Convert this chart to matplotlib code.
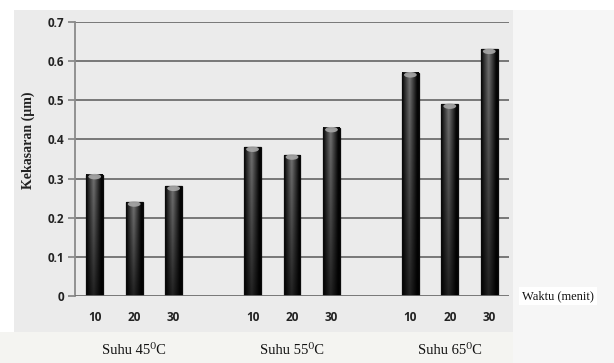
import numpy as np
import matplotlib
matplotlib.use("Agg")
import matplotlib.pyplot as plt
from matplotlib.patches import Rectangle, Ellipse

# ---- data ----
groups = ["Suhu 45⁰C", "Suhu 55⁰C", "Suhu 65⁰C"]
times = ["10", "20", "30"]
roughness = [0.31, 0.24, 0.28, 0.38, 0.36, 0.43, 0.57, 0.49, 0.63]
yticks = [0, 0.1, 0.2, 0.3, 0.4, 0.5, 0.6, 0.7]
ylabel = "Kekasaran (µm)"
xlabel = "Waktu (menit)"

SERIF = ["Liberation Serif", "DejaVu Serif"]
SANS = ["Open Sans", "DejaVu Sans"]

W, H = 614, 363
fig = plt.figure(figsize=(W / 100, H / 100), dpi=100, facecolor="white")

def frac_rect(x0, y0, x1, y1, color, z=-10):
    fig.patches.append(Rectangle((x0 / W, 1 - y1 / H), (x1 - x0) / W, (y1 - y0) / H,
                                 transform=fig.transFigure, facecolor=color,
                                 edgecolor="none", zorder=z))

frac_rect(0, 332, W, H, "#f4f4f1")
frac_rect(513, 10, W, H, "#f6f6f6")
frac_rect(14, 10, 513, 332, "#ebebeb")

ax = fig.add_axes([75 / W, 1 - 296 / H, (509 - 75) / W, (296 - 22) / H])
ax.set_facecolor("none")
ax.set_zorder(1)

pos = []
for g in range(len(groups)):
    for t in range(len(times)):
        pos.append(g * (len(times) + 1) + t)
pos = np.array(pos, dtype=float)

for y in yticks[1:]:
    ax.axhline(y, color="#6e6e6e", lw=1.3, zorder=1)

xs = np.linspace(0, 1, 40)
prof = np.clip(1 - np.abs(xs - 0.45) * 2.1, 0.05, 1)
width = 0.43
for x, v in zip(pos, roughness):
    ys = np.linspace(0, 1, 60)[:, None]
    img = prof[None, :] * (0.3 + 0.7 * ys)
    ax.imshow(img, extent=[x - width / 2, x + width / 2, 0, v], origin="lower",
              cmap="gray", vmin=0, vmax=2.2, aspect="auto", zorder=3,
              interpolation="bilinear")
    ax.add_patch(Rectangle((x - width / 2, 0), width, v, facecolor="none",
                           edgecolor="#0a0a0a", lw=0.9, zorder=4))
    ax.add_patch(Ellipse((x, v - 0.005), width * 0.75, 0.014, facecolor="#a8a8a8",
                         edgecolor="none", zorder=5, alpha=0.9))
ax.set_aspect("auto")
ax.set_xlim(-0.5, pos[-1] + 0.5)
ax.set_ylim(0, 0.7)

for s in ["top", "right", "bottom"]:
    ax.spines[s].set_visible(False)
ax.spines["left"].set_color("#8a8a8a")
ax.spines["left"].set_linewidth(1.3)
ax.axhline(0, color="#6e6e6e", lw=1.3, zorder=6)

ax.set_yticks(yticks)
ax.set_yticklabels(["0"] + [f"{y:.1f}" for y in yticks[1:]],
                   fontsize=8.5, fontweight="bold", family=SANS, color="#222222")
ax.tick_params(axis="y", length=5, width=1.3, color="#8a8a8a", pad=3)

ax.set_xticks(pos)
ax.set_xticklabels(times * len(groups), fontsize=8.5, fontweight="bold",
                   family=SANS, color="#222222")
ax.tick_params(axis="x", length=0, pad=11)

ax.set_ylabel(ylabel, fontsize=10, fontweight="bold", family=SERIF, color="#222222")
ax.yaxis.set_label_coords(-0.092, 0.57)

for g, name in enumerate(groups):
    center = pos[g * 3 + 1]
    ax.text(center, -0.2, name, transform=ax.get_xaxis_transform(),
            ha="center", va="center", fontsize=10.5, family=SERIF, color="#111111")

fig.text(522 / W, 1 - 296 / H, xlabel, ha="left", va="center", fontsize=9,
         family=SERIF, color="#111111",
         bbox=dict(facecolor="white", edgecolor="none", pad=2))

fig.savefig("out.png", dpi=100, facecolor=fig.get_facecolor())
